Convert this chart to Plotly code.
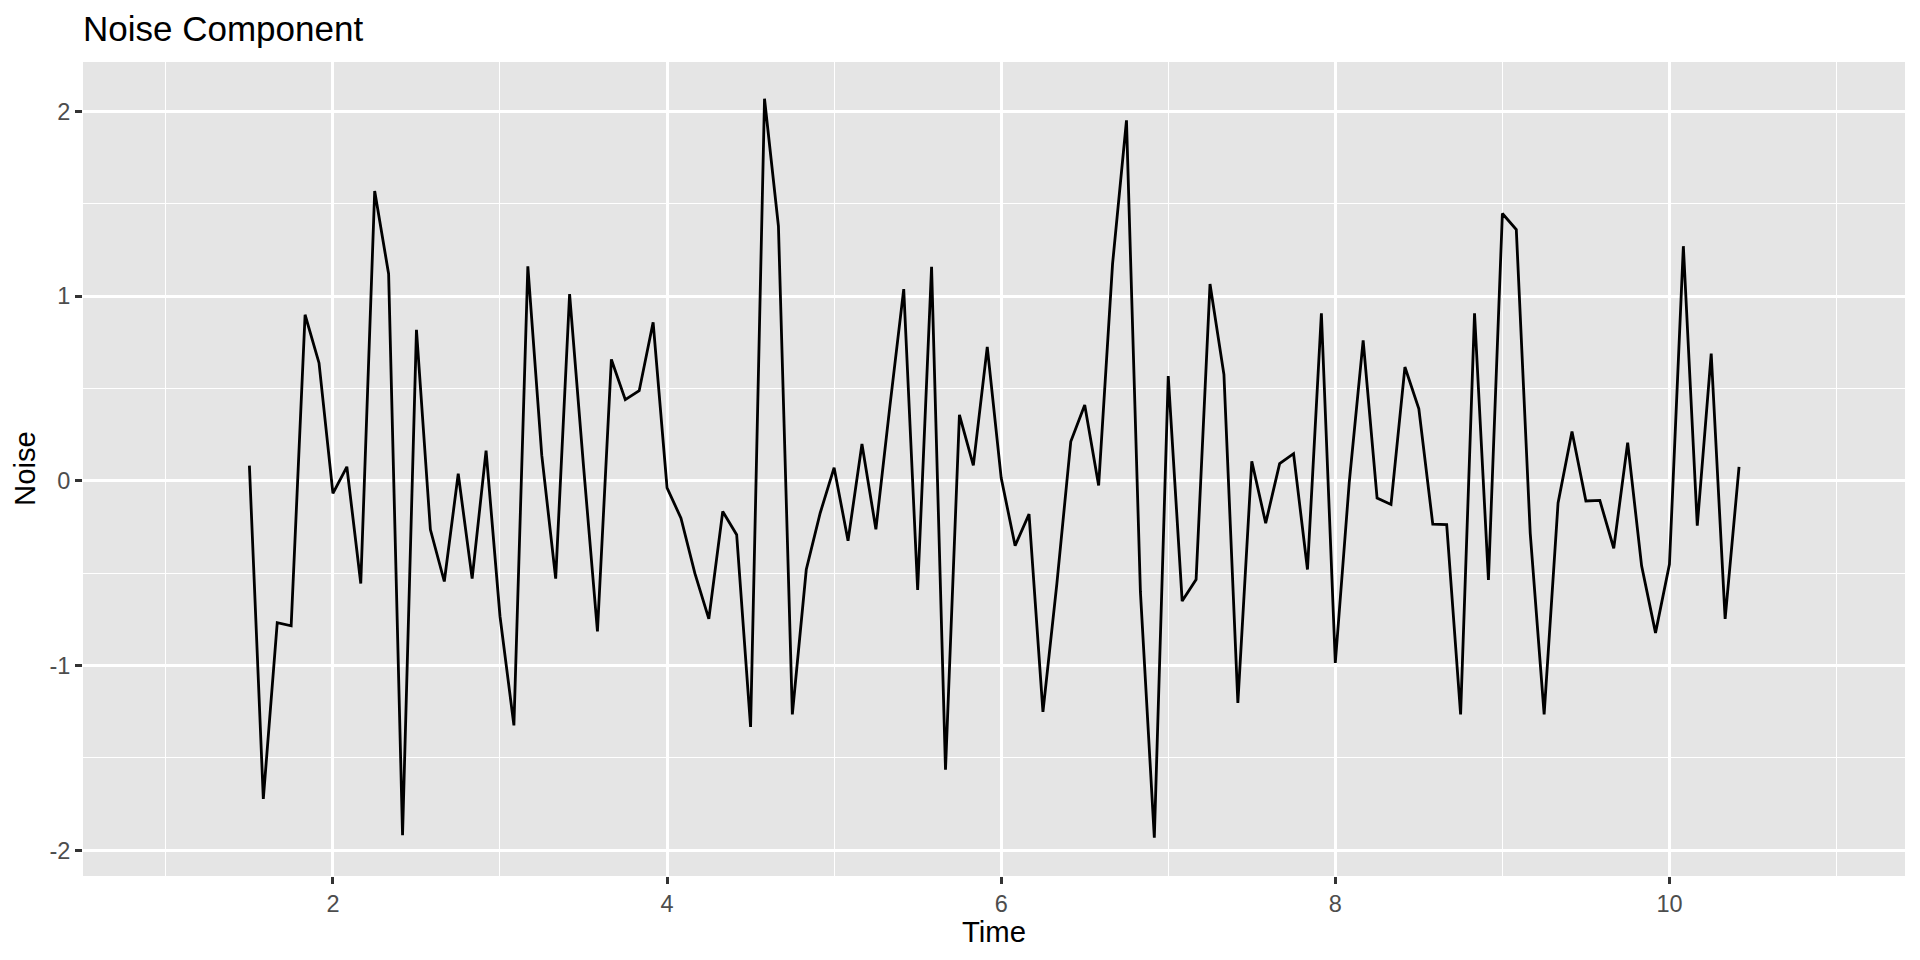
import plotly.graph_objects as go

# ---- data ----
start_time = 1.5
frequency = 12
noise = [
    0.082, -1.722, -0.768, -0.785, 0.899, 0.638, -0.068, 0.076, -0.556, 1.569,
    1.120, -1.918, 0.817, -0.264, -0.545, 0.038, -0.529, 0.163, -0.733, -1.324,
    1.161, 0.139, -0.529, 1.011, 0.080, -0.815, 0.657, 0.439, 0.488, 0.858,
    -0.038, -0.202, -0.501, -0.747, -0.166, -0.292, -1.332, 2.068, 1.379, -1.264,
    -0.480, -0.174, 0.071, -0.324, 0.199, -0.262, 0.400, 1.038, -0.591, 1.158,
    -1.564, 0.357, 0.084, 0.725, 0.016, -0.351, -0.180, -1.251, -0.556, 0.213,
    0.411, -0.025, 1.174, 1.951, -0.600, -1.932, 0.567, -0.651, -0.534, 1.065,
    0.575, -1.202, 0.106, -0.229, 0.093, 0.147, -0.480, 0.907, -0.986, -0.010,
    0.760, -0.093, -0.128, 0.616, 0.390, -0.234, -0.237, -1.264, 0.907, -0.537,
    1.447, 1.360, -0.283, -1.264, -0.120, 0.267, -0.109, -0.106, -0.365, 0.207,
    -0.460, -0.823, -0.452, 1.270, -0.243, 0.689, -0.747, 0.076,
]
time = [start_time + i / frequency for i in range(len(noise))]

x_tickvals = [2, 4, 6, 8, 10]
x_ticktext = ["2", "4", "6", "8", "10"]
y_tickvals = [-2, -1, 0, 1, 2]
y_ticktext = ["-2", "-1", "0", "1", "2"]

title_text = "Noise Component"
x_title = "Time"
y_title = "Noise"

FONT = "Liberation Sans, Arial, Helvetica, sans-serif"

# page body has an 8px default margin; the figure is sized to fill the rest
FIG_W, FIG_H = 1912, 952

fig = go.Figure()
fig.add_trace(go.Scatter(
    x=time, y=noise, mode="lines",
    line=dict(color="black", width=2.8),
    hoverinfo="x+y", showlegend=False,
))

axis_common = dict(
    showline=False, zeroline=False,
    showgrid=True, gridcolor="white", gridwidth=2.7,
    ticks="outside", ticklen=7, tickwidth=2.7, tickcolor="#333333",
    tickfont=dict(family=FONT, size=23.5, color="#4D4D4D"),
)

fig.update_layout(
    width=FIG_W, height=FIG_H,
    margin=dict(l=75, r=15, t=54, b=84, autoexpand=False),
    paper_bgcolor="white", plot_bgcolor="#E5E5E5",
    font=dict(family=FONT, color="black"),
    title=dict(
        text=title_text, font=dict(family=FONT, size=35, color="black"),
        x=75 / FIG_W, xanchor="left", xref="container",
        y=1 - 21 / FIG_H, yanchor="middle", yref="container",
    ),
    xaxis=dict(
        range=[0.504, 11.41],
        tickmode="array", tickvals=x_tickvals, ticktext=x_ticktext,
        minor=dict(dtick=1, tick0=1, showgrid=True, gridcolor="white", gridwidth=1.3, ticks=""),
        **axis_common,
    ),
    yaxis=dict(
        range=[-2.139, 2.267],
        tickmode="array", tickvals=y_tickvals, ticktext=y_ticktext,
        minor=dict(dtick=0.5, tick0=0.5, showgrid=True, gridcolor="white", gridwidth=1.3, ticks=""),
        **axis_common,
    ),
    annotations=[
        dict(text=x_title, xref="paper", yref="paper", x=0.5, y=-(931 - 876) / 814,
             xanchor="center", yanchor="middle", showarrow=False,
             font=dict(family=FONT, size=29.3, color="black")),
        dict(text=y_title, xref="paper", yref="paper", x=(24 - 83) / 1822, y=0.5,
             xanchor="center", yanchor="middle", showarrow=False, textangle=-90,
             font=dict(family=FONT, size=29.3, color="black")),
    ],
)

fig.write_html("out.html")
